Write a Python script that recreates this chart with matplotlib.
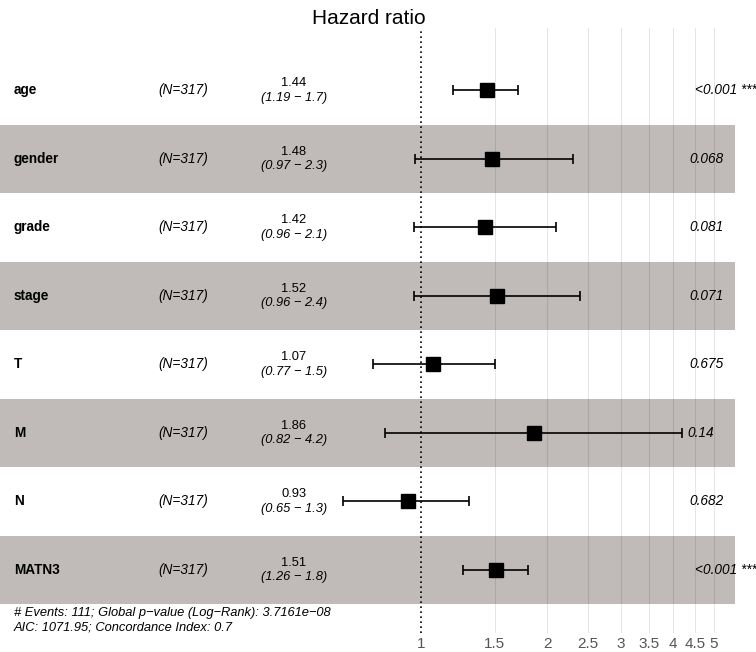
import numpy as np
import matplotlib
matplotlib.use('Agg')
import matplotlib.pyplot as plt
import matplotlib.transforms as mtransforms
from matplotlib.ticker import NullLocator

plt.rcParams['font.family'] = ['Liberation Sans', 'DejaVu Sans']

variables = ['age', 'gender', 'grade', 'stage', 'T', 'M', 'N', 'MATN3']
n_obs = [317, 317, 317, 317, 317, 317, 317, 317]
hr = [1.44, 1.48, 1.42, 1.52, 1.07, 1.86, 0.93, 1.51]
ci_low = [1.19, 0.97, 0.96, 0.96, 0.77, 0.82, 0.65, 1.26]
ci_high = [1.7, 2.3, 2.1, 2.4, 1.5, 4.2, 1.3, 1.8]
p_labels = ['<0.001 ***', '0.068', '0.081', '0.071', '0.675', '0.14', '0.682', '<0.001 ***']
tick_values = [1, 1.5, 2, 2.5, 3, 3.5, 4, 4.5, 5]
tick_labels = ['1', '1.5', '2', '2.5', '3', '3.5', '4', '4.5', '5']
footer = ['# Events: 111; Global p\u2212value (Log\u2212Rank): 3.7161e\u221208',
          'AIC: 1071.95; Concordance Index: 0.7']

W, H = 756, 652
fig = plt.figure(figsize=(W / 100, H / 100), dpi=100)
# panel spans pixel rows 28..633
ax = fig.add_axes([0, (H - 633) / H, 1, (633 - 28) / H])
ax.set_xscale('log')
ax.set_xlim(np.exp(-421 / 182), np.exp(335 / 182))
ax.set_ylim((633 - 90.5) / 68.5, (28 - 90.5) / 68.5)
for s in ax.spines.values():
    s.set_visible(False)
ax.set_yticks([])

rows = np.arange(len(variables))

# alternating row bands
for i in rows:
    if i % 2 == 1:
        ax.axhspan(i - 0.5, i + 0.5, xmin=0, xmax=735 / W, color='#c0bbb8', lw=0, zorder=0)

# grid
for v in tick_values[1:]:
    ax.axvline(v, color='black', alpha=0.1, lw=0.8, zorder=1)
ax.axvline(1, color='black', ls=(0, (1, 2)), lw=1.2, zorder=2)

ax.set_xticks(tick_values)
ax.set_xticklabels(tick_labels)
ax.xaxis.set_minor_locator(NullLocator())
ax.tick_params(axis='x', length=0, pad=3, labelsize=11, labelcolor='#555555')

hr_a = np.array(hr)
ax.errorbar(hr_a, rows, xerr=[hr_a - np.array(ci_low), np.array(ci_high) - hr_a],
            fmt='none', ecolor='black', elinewidth=1.2, capsize=3.3, capthick=1.2, zorder=3)
ax.plot(hr_a, rows, 's', color='black', markersize=10.3, zorder=4)

trans = mtransforms.blended_transform_factory(fig.transFigure, ax.transData)
for i, name in enumerate(variables):
    ax.text(14 / W, i, name, transform=trans, ha='left', va='center',
            fontsize=9.8, fontweight='bold')
    ax.text(183 / W, i, f'(N={n_obs[i]})', transform=trans, ha='center', va='center',
            fontsize=9.8, style='italic')
    ax.text(294 / W, i - 0.02, f'{hr[i]:g}', transform=trans, ha='center', va='bottom',
            fontsize=9.3)
    ax.text(294 / W, i + 0.02, f'({ci_low[i]:g} \u2212 {ci_high[i]:g})', transform=trans,
            ha='center', va='top', fontsize=9.3, style='italic')

# p-values, left anchored just right of the widest interval (hjust = -0.2)
ptexts = []
for i, lab in enumerate(p_labels):
    ptexts.append(ax.text(max(ci_high), i, lab, ha='left', va='center',
                          fontsize=9.8, style='italic'))
fig.canvas.draw()
r = fig.canvas.get_renderer()
for t in ptexts:
    w = t.get_window_extent(r).width
    t.set_transform(ax.transData + mtransforms.ScaledTranslation(0.2 * w / fig.dpi, 0, fig.dpi_scale_trans))

fig.text(369 / W, 1 - 24 / H, 'Hazard ratio', ha='center', va='baseline', fontsize=15)
fig.text(14 / W, 1 - 616 / H, footer[0], ha='left', va='baseline', fontsize=9.3, style='italic')
fig.text(14 / W, 1 - 630 / H, footer[1], ha='left', va='baseline', fontsize=9.3, style='italic')

fig.savefig('out.png', dpi=100)
